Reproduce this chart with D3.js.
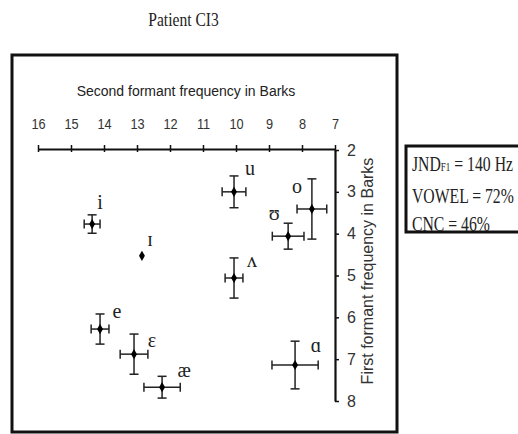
<!DOCTYPE html>
<html><head><meta charset="utf-8">
<script src="https://cdn.jsdelivr.net/npm/d3@7"></script>
<style>body{margin:0;background:#fff}svg{display:block}</style>
</head><body>
<script>
// ---- data ----
const vowels   = ["i","ɪ","u","o","ʊ","ʌ","e","ɛ","æ","ɑ"];
const f2Barks  = [14.36,12.85,10.06,7.70,8.42,10.06,14.12,13.09,12.24,8.21];
const f1Barks  = [3.77,4.53,3.00,3.41,4.06,5.06,6.28,6.88,7.67,7.14];
const f2Err    = [0.24,0,0.36,0.45,0.48,0.27,0.27,0.42,0.55,0.70];
const f1Err    = [0.22,0,0.38,0.72,0.31,0.48,0.36,0.48,0.26,0.57];
const xTicks   = [16,15,14,13,12,11,10,9,8,7];
const yTicks   = [2,3,4,5,6,7,8];
const titleText = "Patient CI3";
const xTitle = "Second formant frequency in Barks";
const yTitle = "First formant frequency in Barks";
const legendLines = [["JND","F1"," = 140 Hz"],["VOWEL = 72%"],["CNC = 46%"]];

// ---- layout ----
const W = 518, H = 434;
const labelOff = {"i":[8,-15],"ɪ":[8,-10],"u":[16,-17],"o":[-15,-16],"ʊ":[-14,-16],
  "ʌ":[18,-11],"e":[17,-11],"ɛ":[18,-7],"æ":[22,-10],"ɑ":[21,-13]};

const svg = d3.select("body").append("svg").attr("width",W).attr("height",H);
const serif = "'Liberation Serif','Times New Roman',serif";
const sans = "'Liberation Sans',Arial,sans-serif";

const x = d3.scaleLinear().domain([16,7]).range([38,335]);
const y = d3.scaleLinear().domain([2,8]).range([150,401]);

// title
svg.append("text").attr("transform","translate(183.5,26) scale(0.82,1)")
  .attr("text-anchor","middle").attr("font-family",serif).attr("font-size",19)
  .attr("fill","#222").text(titleText);

// outer frame
svg.append("rect").attr("x",12).attr("y",55).attr("width",385).attr("height",377)
  .attr("fill","none").attr("stroke","#111").attr("stroke-width",3);

// x axis (top)
const gx = svg.append("g").attr("transform","translate(0,149)")
  .call(d3.axisTop(x).tickValues(xTicks).tickSize(4).tickSizeOuter(0).tickPadding(0).tickFormat(d3.format("d")));
gx.select(".domain").attr("stroke","#111").attr("stroke-width",2);
gx.selectAll(".tick line").attr("stroke","#111").attr("stroke-width",1.5).attr("y1",3);
gx.selectAll(".tick text").attr("y",-20).attr("font-family",sans).attr("font-size",15)
  .attr("fill","#333").attr("transform","scale(0.85,1)");
svg.append("text").attr("x",186).attr("y",96).attr("text-anchor","middle")
  .attr("font-family",sans).attr("font-size",14).attr("fill","#222").text(xTitle);

// y axis (right side of plot)
const gy = svg.append("g").attr("transform","translate(335,0)")
  .call(d3.axisRight(y).tickValues(yTicks).tickSize(4).tickSizeOuter(0).tickFormat(d3.format("d")));
gy.select(".domain").attr("stroke","#111").attr("stroke-width",2.2);
gy.selectAll(".tick line").attr("stroke","#111").attr("stroke-width",1.5);
gy.selectAll(".tick text").attr("x",12).attr("font-family",sans).attr("font-size",16).attr("fill","#333");
svg.append("text").attr("transform","translate(373,271) rotate(-90)").attr("text-anchor","middle")
  .attr("font-family",sans).attr("font-size",16).attr("fill","#333").text(yTitle);

// data
const data = vowels.map((v,i)=>({v, f2:f2Barks[i], f1:f1Barks[i], e2:f2Err[i], e1:f1Err[i]}));
const cap = 4.5;
const g = svg.append("g").attr("stroke","#222").attr("stroke-width",1.5).attr("fill","none");
data.filter(d=>d.e2>0).forEach(d=>{
  const cx = x(d.f2), cy = y(d.f1);
  const xl = x(d.f2 + d.e2), xr = x(d.f2 - d.e2);
  const yt = y(d.f1 - d.e1), yb = y(d.f1 + d.e1);
  g.append("line").attr("x1",xl).attr("x2",xr).attr("y1",cy).attr("y2",cy);
  g.append("line").attr("x1",xl).attr("x2",xl).attr("y1",cy-cap).attr("y2",cy+cap);
  g.append("line").attr("x1",xr).attr("x2",xr).attr("y1",cy-cap).attr("y2",cy+cap);
  g.append("line").attr("x1",cx).attr("x2",cx).attr("y1",yt).attr("y2",yb);
  g.append("line").attr("x1",cx-cap).attr("x2",cx+cap).attr("y1",yt).attr("y2",yt);
  g.append("line").attr("x1",cx-cap).attr("x2",cx+cap).attr("y1",yb).attr("y2",yb);
});
svg.append("g").selectAll("path").data(data).join("path")
  .attr("transform",d=>`translate(${x(d.f2)},${y(d.f1)})`)
  .attr("d",d3.symbol(d3.symbolDiamond,30))
  .attr("fill","#000");
svg.append("g").selectAll("text").data(data).join("text")
  .attr("x",d=>x(d.f2)+labelOff[d.v][0]).attr("y",d=>y(d.f1)+labelOff[d.v][1])
  .attr("text-anchor","middle").attr("font-family",serif).attr("font-size",20).attr("fill","#222")
  .text(d=>d.v);

// legend box
svg.append("rect").attr("x",406).attr("y",146).attr("width",130).attr("height",86)
  .attr("fill","none").attr("stroke","#111").attr("stroke-width",3);
const lg = svg.append("g").attr("font-family",serif).attr("fill","#222");
const baselines = [171,203,231];
legendLines.forEach((parts,i)=>{
  const t = lg.append("text").attr("transform",`translate(412,${baselines[i]}) scale(0.75,1)`).attr("font-size",21);
  if (parts.length===3){
    t.append("tspan").text(parts[0]);
    t.append("tspan").attr("font-size",12).text(parts[1]);
    t.append("tspan").text(parts[2]);
  } else t.text(parts[0]);
});
</script>
</body></html>
